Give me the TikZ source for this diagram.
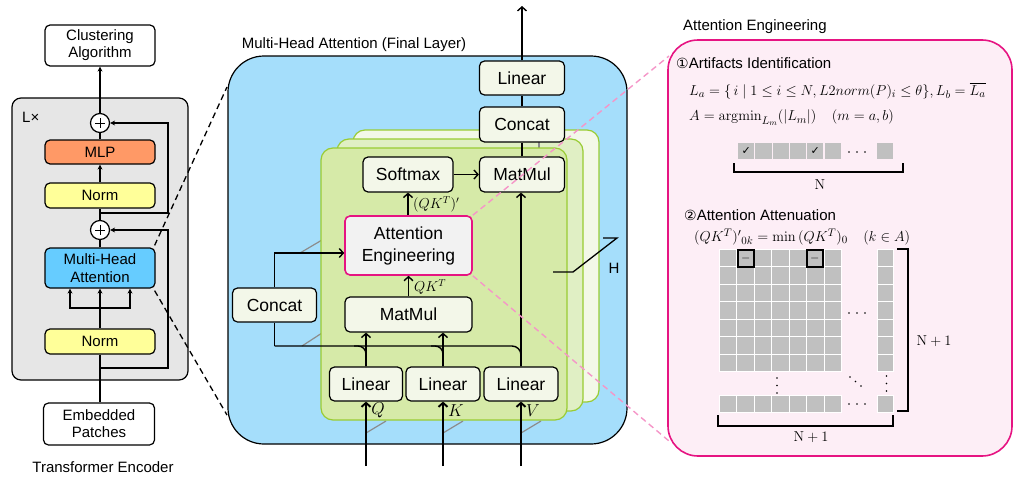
\documentclass[tikz,border=0pt]{standalone}
\usepackage{amsmath}
\usepackage[no-math]{fontspec}
\setmainfont{Liberation Sans}
\newfontfamily\dejavu{DejaVu Sans}
\usetikzlibrary{arrows.meta,calc}
\definecolor{bluebg}{RGB}{165,222,251}
\definecolor{mhablue}{RGB}{102,204,255}
\definecolor{mlporange}{RGB}{255,153,102}
\definecolor{normyellow}{RGB}{255,255,153}
\definecolor{graybg}{RGB}{230,230,230}
\definecolor{gfront}{RGB}{214,234,168}
\definecolor{gmid}{RGB}{224,239,196}
\definecolor{gback}{RGB}{243,248,232}
\definecolor{gborder}{RGB}{153,204,51}
\definecolor{boxfill}{RGB}{243,247,233}
\definecolor{aefill}{RGB}{242,242,242}
\definecolor{pinkborder}{RGB}{230,20,130}
\definecolor{pinkbg}{RGB}{253,238,246}
\definecolor{pinkdash}{RGB}{245,150,200}
\definecolor{cellgray}{RGB}{192,192,192}
\definecolor{depthgray}{RGB}{140,140,140}
\tikzset{
  lbox/.style={draw, rounded corners=5pt, line width=1.2pt, inner sep=0pt, align=center,
    font=\fontsize{15}{17}\selectfont},
  mbox/.style={draw, rounded corners=5pt, line width=1.2pt, inner sep=0pt, align=center,
    fill=boxfill, font=\fontsize{17.5}{22}\selectfont},
  plusc/.style={circle, draw, fill=white, line width=1.2pt, minimum size=19pt, inner sep=0pt},
  larr/.style={line width=1.3pt, -{Stealth[length=5pt,width=5pt]}},
  lline/.style={line width=1.3pt},
  marr/.style={line width=1.4pt, -{Straight Barb[length=4pt,width=9pt]}},
  mline/.style={line width=1.4pt},
  inarr/.style={line width=1.9pt, -{Straight Barb[length=4pt,width=9pt]}},
  txt/.style={inner sep=0pt, font=\fontsize{15}{18}\selectfont},
  mtxt/.style={inner sep=0pt, font=\fontsize{15.5}{18}\selectfont},
  mlab/.style={inner sep=0pt, font=\fontsize{14.5}{16}\selectfont},
  depth/.style={depthgray, line width=1.2pt},
  cell/.style={fill=cellgray, draw=white, line width=0.8pt},
  brk/.style={line width=1.6pt},
  blackdash/.style={line width=1.3pt, dash pattern=on 6pt off 4pt},
  pinkd/.style={pinkdash, line width=1.4pt, dash pattern=on 6pt off 4pt},
  dotc/.style={fill=black, draw=none},
}
\begin{document}
\begin{tikzpicture}[x=1pt,y=-1pt]
\useasboundingbox (0,0) rectangle (1024,479);

% ================= LEFT: Transformer Encoder =================
\draw[fill=graybg, line width=1.2pt, rounded corners=9pt] (12,98) rectangle (188,380);
\node[txt, anchor=west] (lx) at (22,117) {L×};

\node[lbox, minimum width=110pt, minimum height=41pt] (clus) at (100,45.5) {Clustering\\Algorithm};
\node[plusc] (p1) at (100,123) {};
\node[lbox, fill=mlporange, minimum width=110pt, minimum height=24pt] (mlp) at (100,152) {MLP};
\node[lbox, fill=normyellow, minimum width=110pt, minimum height=25pt] (norm1) at (100,195.5) {Norm};
\node[plusc] (p2) at (100,230) {};
\node[lbox, fill=mhablue, minimum width=110pt, minimum height=40pt, font=\fontsize{15}{18}\selectfont] (mha) at (100,268) {Multi-Head\\Attention};
\node[lbox, fill=normyellow, minimum width=110pt, minimum height=25pt] (norm2) at (100,341.5) {Norm};
\node[lbox, minimum width=111pt, minimum height=42pt] (emb) at (99,424) {Embedded\\Patches};
\node[txt] (te) at (103,467) {Transformer Encoder};

\foreach \p in {p1,p2}{
  \draw[line width=0.9pt] ($(\p)+(-5,0)$) -- ($(\p)+(5,0)$) ($(\p)+(0,-5)$) -- ($(\p)+(0,5)$);
}

\draw[larr] (p1.north) -- (clus.south);
\draw[lline] (mlp.north) -- (p1.south);
\draw[larr] (norm1.north) -- (mlp.south);
\draw[lline] (p2.north) -- (norm1.south);
\draw[lline] (mha.north) -- (p2.south);
\draw[larr] (norm2.north) -- (mha.south);
\draw[lline] (norm2.south) -- (norm2.south |- emb.north);
\coordinate (fork) at (100,308);
\draw[larr] (fork) -| ($(mha.south)+(-30,0)$);
\draw[larr] (fork) -| ($(mha.south)+(30,0)$);
\coordinate (r1) at (100,213);
\coordinate (r1b) at (168,213);
\coordinate (r1c) at (168,123);
\draw[larr] (r1) -- (r1b) -- (r1c) -- (p1.east);
\coordinate (r2) at (100,368);
\coordinate (r2b) at (168,368);
\coordinate (r2c) at (168,230);
\draw[larr] (r2) -- (r2b) -- (r2c) -- (p2.east);

% ================= MIDDLE: Multi-Head Attention =================
\draw[fill=bluebg, line width=1.2pt, rounded corners=36pt] (228,56) rectangle (627,444);
\node[txt] (mhat) at (354,45) {Multi-Head Attention (Final Layer)};

\coordinate (bl1) at (227,87);
\coordinate (bl2) at (227,415);
\draw[blackdash] ($(mha.north east)+(-1,-2)$) -- (bl1);
\draw[blackdash] ($(mha.south east)+(-1,2)$) -- (bl2);

% depth lines (behind panels)
\draw[depth] (300,253) -- (322,240);
\draw[depth] (302,346) -- (322,333);
\draw[depth] (366,433) -- (386,421);
\draw[depth] (443,433) -- (463,421);
\draw[depth] (521,433) -- (541,421);

% stacked heads
\draw[fill=gback, draw=gborder, line width=1.2pt, rounded corners=12pt] (353,130) rectangle (599,402);
\draw[fill=gmid, draw=gborder, line width=1.2pt, rounded corners=12pt] (337,139) rectangle (583,411);
\draw[depth] (539,141) -- (539,148);
\draw[fill=gfront, draw=gborder, line width=1.2pt, rounded corners=12pt] (321,148) rectangle (567,420);

\node[mbox, minimum width=85pt, minimum height=34pt] (linT) at (522,78) {Linear};
\node[mbox, minimum width=85pt, minimum height=35pt] (concT) at (522,124.5) {Concat};
\node[mbox, minimum width=85pt, minimum height=35pt] (mm2) at (522,174.5) {MatMul};
\node[mbox, minimum width=90pt, minimum height=35pt] (soft) at (408,174.5) {Softmax};
\node[mbox, fill=aefill, draw=pinkborder, line width=1.6pt, minimum width=127pt, minimum height=59pt] (ae) at (408.5,245.5) {Attention\\Engineering};
\node[mbox, minimum width=127pt, minimum height=35pt] (mm1) at (408.5,314.5) {MatMul};
\node[mbox, minimum width=73pt, minimum height=34pt] (linQ) at (366,384) {Linear};
\node[mbox, minimum width=74pt, minimum height=34pt] (linK) at (443,384) {Linear};
\node[mbox, minimum width=74pt, minimum height=34pt] (linV) at (521,384) {Linear};
\node[mbox, minimum width=84pt, minimum height=34pt] (concL) at (274.5,305) {Concat};

\coordinate (out) at (522,6);
\draw[marr] (linT.north) -- (out);
\draw[mline] (concT.north) -- (linT.south);
\draw[mline] (mm2.north) -- (concT.south);
\draw[marr] (soft.east) -- (mm2.west);
\draw[marr] (ae.north -| soft.south) -- (soft.south);
\node[mlab, anchor=west] (qkp) at (413,204) {$(QK^T)'$};
\draw[marr] (mm1.north) -- (ae.south);
\node[mlab, anchor=west] (qk) at (414,287) {$QK^T$};
\draw[marr] (linQ.north) -- (linQ.north |- mm1.south);
\draw[marr] (linK.north) -- (linK.north |- mm1.south);
\draw[marr] (linV.north) -- (linV.north |- mm2.south);
\draw[marr] (concL.north) |- ([yshift=-7.5pt]ae.west);
\coordinate (cL) at (274.5,346);
\coordinate (cV) at (521,346);
\draw[mline] (concL.south) -- (cL);
\draw[mline, rounded corners=9pt] (cL) -- (cV) -- (linV.north);
\coordinate (cQa) at (354,346);
\coordinate (cQb) at (366,346);
\coordinate (cKa) at (431,346);
\coordinate (cKb) at (443,346);
\draw[mline, rounded corners=8pt] (cQa) -- (cQb) -- (linQ.north);
\draw[mline, rounded corners=8pt] (cKa) -- (cKb) -- (linK.north);

\coordinate (inQ) at (366,466);
\coordinate (inK) at (443,466);
\coordinate (inV) at (521,466);
\draw[inarr] (inQ) -- (linQ.south);
\draw[inarr] (inK) -- (linK.south);
\draw[inarr] (inV) -- (linV.south);
\node[mlab, font=\fontsize{16}{17}\selectfont] (lq) at (378,410) {$Q$};
\node[mlab, font=\fontsize{16}{17}\selectfont] (lk) at (456,411) {$K$};
\node[mlab, font=\fontsize{16}{17}\selectfont] (lv) at (533,411) {$V$};

\coordinate (h1) at (603,238);
\coordinate (h2) at (617,238);
\coordinate (h3) at (573,272);
\coordinate (h4) at (553,272);
\draw[line width=1.3pt] (h1) -- (h2) -- (h3) -- (h4);
\node[txt] (hl) at (614,268) {H};

% ================= RIGHT: Attention Engineering =================
\draw[fill=pinkbg, draw=pinkborder, line width=1.6pt, rounded corners=30pt] (668,40) rectangle (1012,456);
\coordinate (pk1) at (669,56);
\coordinate (pk2) at (669,441);
\draw[pinkd] (ae.north east) -- (pk1);
\draw[pinkd] (ae.south east) -- (pk2);

\node[txt, anchor=west] (aet) at (683,27) {Attention Engineering};
\node[txt, anchor=west] (s1) at (676,63) {{\dejavu\fontsize{14}{16}\selectfont ①}Artifacts Identification};
\node[mtxt, anchor=west] (eq1) at (689,91) {$L_a=\{\,i\mid 1\le i\le N, L2norm(P)_i\le\theta\},L_b=\overline{L_a}$};
\node[mtxt, anchor=west] (eq2) at (689,118) {$A=\operatorname{argmin}_{L_m}(|L_m|)\quad(m=a,b)$};

\foreach \i in {0,...,5}{
  \fill[cellgray] (738+17.3*\i,143) rectangle +(16.2,16);
}
\fill[cellgray] (877,143) rectangle +(16,16);
\node[inner sep=0pt, font=\dejavu\fontsize{11}{12}\selectfont] (ck1) at (746.1,151) {✓};
\node[inner sep=0pt, font=\dejavu\fontsize{11}{12}\selectfont] (ck2) at (815.3,151) {✓};
\foreach \k in {0,1,2}{ \fill[dotc] (849+8*\k,152) circle (0.9); }
\draw[brk] (734,163) -- (734,172) -- (903,172) -- (903,163);
\node[mtxt] (nl) at (820,185) {$\mathrm{N}$};

\node[txt, anchor=west] (s2) at (684,215) {{\dejavu\fontsize{14}{16}\selectfont ②}Attention Attenuation};
\node[mtxt, anchor=west] (eq3) at (694,237) {$(QK^T)'{}_{0k}=\min\,(QK^T)_0\quad(k\in A)$};

\foreach \i in {0,...,6}{
  \foreach \j in {0,...,6}{
    \draw[cell] (719+17.5*\i,249+17.5*\j) rectangle +(17.5,17.5);
  }
  \draw[cell] (877,249+17.5*\i) rectangle +(16.5,17.5);
  \draw[cell] (719+17.5*\i,395) rectangle +(17.5,17);
}
\draw[cell] (877,395) rectangle +(16.5,17);
\draw[line width=2pt] (737.5,249.5) rectangle +(16.5,17);
\draw[line width=2pt] (806.5,249.5) rectangle +(16.5,17);
\node[inner sep=0pt, font=\fontsize{13}{14}\selectfont] (m1) at (745.7,258) {$-$};
\node[inner sep=0pt, font=\fontsize{13}{14}\selectfont] (m2) at (814.7,258) {$-$};
% ellipsis dots
\foreach \k in {0,1,2}{
  \fill[dotc] (849+8*\k,313) circle (0.9);
  \fill[dotc] (849+8*\k,404) circle (0.9);
  \fill[dotc] (777,378+7.5*\k) circle (0.9);
  \fill[dotc] (886.5,376+7.5*\k) circle (0.9);
  \fill[dotc] (850+5.5*\k,377+4.5*\k) circle (0.9);
}

\draw[brk] (897,249) -- (908,249) -- (908,411) -- (897,411);
\node[mtxt] (n1a) at (934,341) {$\mathrm{N}+1$};
\draw[brk] (718,415) -- (718,426) -- (893,426) -- (893,415);
\node[mtxt] (n1b) at (811,437) {$\mathrm{N}+1$};
\end{tikzpicture}
\end{document}
